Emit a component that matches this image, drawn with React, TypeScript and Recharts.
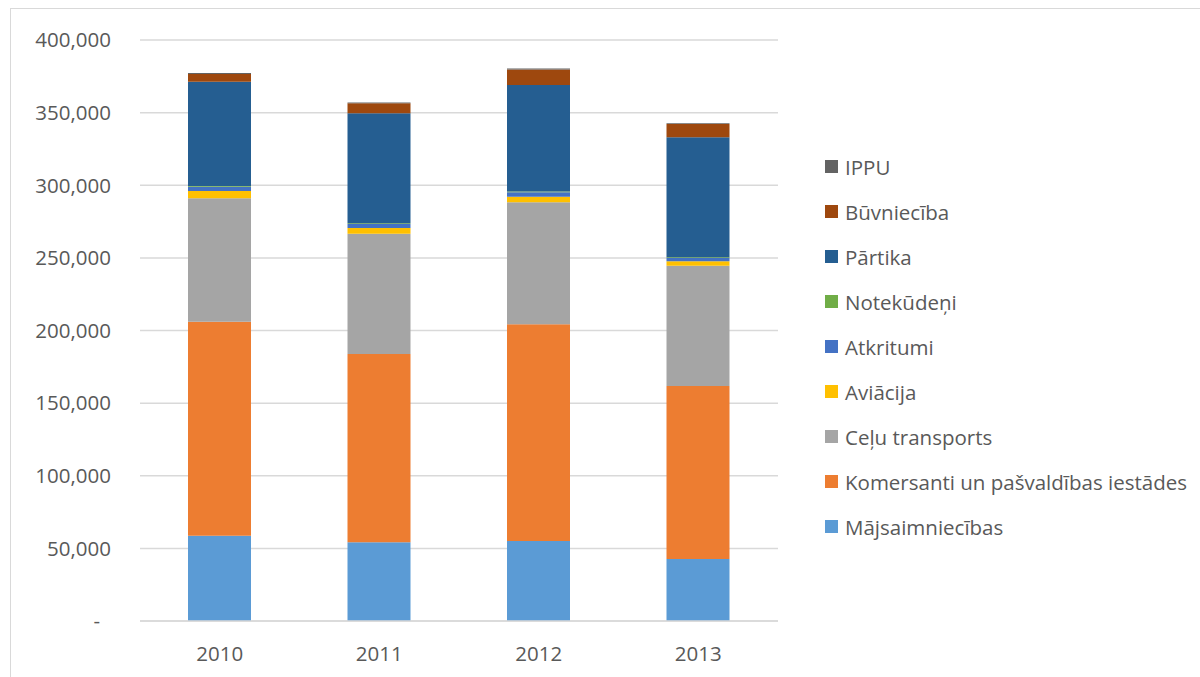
import React from 'react'
import { Bar, BarChart, CartesianGrid, XAxis, YAxis } from 'recharts'

const years = ['2010', '2011', '2012', '2013']

const majsaimniecibas = [58700, 54200, 55100, 42700]
const komersanti = [147300, 129600, 149200, 119100]
const celuTransports = [85000, 82800, 84000, 82800]
const aviacija = [5000, 3900, 3700, 3000]
const atkritumi = [3000, 2800, 3200, 2300]
const notekudeni = [500, 500, 500, 500]
const partika = [71800, 75700, 73300, 82600]
const buvnieciba = [5300, 6900, 10700, 9150]
const ippu = [600, 600, 600, 600]

const yTicks = [0, 50000, 100000, 150000, 200000, 250000, 300000, 350000, 400000]

// bottom to top stacking order
const series = [
  { key: 'majs', name: 'Mājsaimniecības', color: '#5B9BD5', values: majsaimniecibas },
  { key: 'kom', name: 'Komersanti un pašvaldības iestādes', color: '#ED7D31', values: komersanti },
  { key: 'celu', name: 'Ceļu transports', color: '#A5A5A5', values: celuTransports },
  { key: 'avi', name: 'Aviācija', color: '#FFC000', values: aviacija },
  { key: 'atkr', name: 'Atkritumi', color: '#4472C4', values: atkritumi },
  { key: 'note', name: 'Notekūdeņi', color: '#70AD47', values: notekudeni },
  { key: 'part', name: 'Pārtika', color: '#255E91', values: partika },
  { key: 'buv', name: 'Būvniecība', color: '#9E480E', values: buvnieciba },
  { key: 'ippu', name: 'IPPU', color: '#636363', values: ippu }
]

const data = years.map((year, i) => {
  const row: Record<string, string | number> = { year }
  series.forEach((s) => {
    row[s.key] = s.values[i]
  })
  return row
})

const FONT = '"Open Sans", sans-serif'
const TEXT = '#595959'

const YTick = ({ x, y, payload }: any) => {
  const v = payload.value as number
  return (
    <text
      x={v === 0 ? x - 11 : x}
      y={y}
      dy="0.355em"
      textAnchor="end"
      fill={TEXT}
      fontSize={20.5}
      fontFamily={FONT}
    >
      {v === 0 ? '-' : v.toLocaleString('en-US')}
    </text>
  )
}

export default function App() {
  const legendItems = [...series].reverse()
  return (
    <div
      style={{
        position: 'absolute',
        left: 0,
        top: 0,
        width: 1200,
        height: 677,
        overflow: 'hidden',
        background: '#fff',
        fontFamily: FONT
      }}
    >
      <div
        style={{
          position: 'absolute',
          left: 10,
          top: 8,
          width: 1200,
          height: 700,
          border: '1px solid #d9d9d9'
        }}
      />
      <BarChart
        width={1200}
        height={677}
        data={data}
        margin={{ top: 40, right: 422, bottom: 26, left: 0 }}
        barSize={63}
        style={{ position: 'absolute', left: 0, top: 0 }}
      >
        <CartesianGrid vertical={false} stroke="#d9d9d9" strokeWidth={1.5} />
        <XAxis
          dataKey="year"
          height={30}
          axisLine={{ stroke: '#d9d9d9', strokeWidth: 1.5 }}
          tickLine={false}
          tickMargin={19}
          tick={{ fill: TEXT, fontSize: 20.5, fontFamily: FONT }}
        />
        <YAxis
          width={140}
          domain={[0, 400000]}
          ticks={yTicks}
          axisLine={false}
          tickLine={false}
          tickSize={0}
          tickMargin={29}
          tick={<YTick />}
        />
        {series.map((s) => (
          <Bar
            key={s.key}
            dataKey={s.key}
            name={s.name}
            stackId="a"
            fill={s.color}
            isAnimationActive={false}
          />
        ))}
      </BarChart>
      <div style={{ position: 'absolute', left: 825, top: 144 }}>
        {legendItems.map((s) => (
          <div
            key={s.key}
            style={{
              display: 'flex',
              alignItems: 'center',
              height: 45,
              whiteSpace: 'nowrap'
            }}
          >
            <span
              style={{
                width: 13,
                height: 13,
                background: s.color,
                marginRight: 7,
                display: 'inline-block'
              }}
            />
            <span style={{ color: TEXT, fontSize: 20.5 }}>{s.name}</span>
          </div>
        ))}
      </div>
    </div>
  )
}
